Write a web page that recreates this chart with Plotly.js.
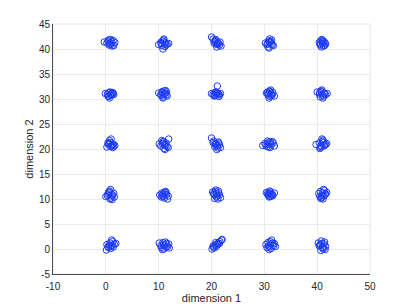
<!DOCTYPE html>
<html>
<head>
<meta charset="utf-8">
<script src="https://cdn.plot.ly/plotly-3.0.1.min.js"></script>
<style>html,body{margin:0;padding:0;background:#fff;}#chart{width:409px;height:308px;}</style>
</head>
<body>
<div id="chart"></div>
<script>
// Points grouped by row of clusters (dimension 2 ≈ 0, 10, 20, 30, 40)
var xRow0 = [0.2,0.5,0.8,1.0,1.3,1.6,0.9,0.4,1.1,1.4,0.7,1.9,0.1,1.2,
  10.1,10.5,10.9,11.3,11.7,12.0,10.7,11.1,11.5,10.4,11.9,11.0,10.8,11.4,
  20.1,20.4,20.7,21.0,21.3,21.6,21.9,20.5,20.9,21.2,20.3,21.5,22.0,20.8,
  30.3,30.7,31.0,31.4,31.8,32.1,30.9,31.2,31.6,30.5,31.3,30.8,31.9,31.1,
  40.2,40.5,40.8,41.0,41.3,41.6,40.7,41.1,41.4,40.4,40.9,41.2,40.6,41.5];
var yRow0 = [0.9,0.3,1.2,0.6,1.5,1.0,0.1,0.5,1.8,0.4,0.8,1.1,-0.2,0.7,
  1.2,0.3,0.9,1.4,0.5,0.2,-0.1,0.6,1.1,0.7,1.0,0.0,1.3,0.4,
  0.0,0.4,0.8,1.0,1.2,1.5,1.8,0.2,0.5,0.9,0.6,1.1,1.9,1.3,
  0.9,1.3,0.4,1.8,0.7,0.5,-0.1,1.0,1.2,0.3,0.1,0.6,1.1,1.5,
  1.2,0.8,1.6,0.3,1.0,0.5,-0.3,0.0,1.4,0.6,1.1,0.2,0.9,-0.1];
var xRow1 = [0.0,0.4,0.7,1.0,1.3,1.6,0.5,0.9,1.2,0.3,1.5,0.8,1.1,0.6,
  10.2,10.6,10.9,11.2,11.5,11.8,10.8,11.1,11.4,10.5,11.0,11.7,10.7,11.3,
  20.2,20.5,20.8,21.1,21.4,21.7,20.6,21.0,21.3,20.9,21.5,20.4,21.2,20.7,
  30.4,30.7,31.0,31.3,31.6,31.9,30.9,31.2,31.5,30.6,31.1,30.8,31.4,31.0,
  40.3,40.6,40.9,41.2,41.5,41.8,40.8,41.1,41.4,40.5,41.0,41.3,40.7,41.6];
var yRow1 = [10.5,11.0,11.6,10.2,10.8,10.4,11.3,11.9,9.9,10.7,11.1,10.0,10.6,11.4,
  10.8,11.2,10.5,11.4,10.9,10.6,11.0,10.2,11.3,10.4,11.1,10.0,10.7,11.5,
  11.4,10.9,11.8,10.6,11.2,10.3,10.1,11.0,11.6,10.4,10.8,11.1,10.0,11.5,
  11.3,10.8,11.6,11.0,10.7,11.2,10.4,11.4,10.9,11.1,10.5,11.0,10.6,11.2,
  11.1,11.5,10.7,11.9,10.9,11.3,10.3,10.0,11.7,10.5,11.2,10.6,10.1,11.0];
var xRow2 = [0.2,0.5,0.8,1.1,1.4,1.7,0.7,1.0,1.3,0.6,0.9,1.2,0.4,1.5,
  10.1,10.4,10.8,11.1,11.4,11.8,10.6,11.0,11.3,10.9,11.6,10.7,11.2,11.9,
  20.0,20.4,20.8,21.1,21.4,21.7,20.7,21.0,21.3,20.6,21.5,20.9,21.2,20.3,
  29.7,30.1,30.5,30.9,31.3,31.7,31.9,30.7,31.1,30.3,31.5,30.8,31.2,30.6,
  39.8,40.4,40.8,41.1,41.4,41.8,40.6,41.0,41.3,40.9,41.6,40.5,41.2,40.7];
var yRow2 = [20.4,20.9,21.3,20.6,21.0,20.7,21.7,22.0,20.3,21.1,20.5,20.8,21.2,20.6,
  21.0,20.6,21.4,20.9,21.2,20.3,21.7,20.1,20.7,21.5,20.5,21.1,19.9,22.0,
  22.2,21.6,21.0,20.6,21.2,20.3,20.9,19.9,21.4,20.5,20.8,21.1,20.2,21.3,
  20.7,21.1,20.5,21.4,20.9,21.2,20.6,21.0,20.3,20.8,21.5,20.4,21.3,21.6,
  20.9,21.2,20.5,21.8,20.8,21.1,20.3,21.5,20.6,22.0,20.9,20.1,21.3,20.7];
var xRow3 = [-0.1,0.3,0.6,0.9,1.2,1.5,0.5,0.8,1.1,1.4,0.7,1.0,0.4,1.3,
  10.0,10.4,10.7,11.0,11.3,11.6,10.6,10.9,11.2,11.4,10.8,11.1,10.5,11.5,
  20.0,20.3,20.6,20.9,21.2,21.5,21.7,20.5,20.8,21.1,21.4,20.7,21.0,21.3,
  30.4,30.7,31.0,31.3,31.6,31.9,30.9,31.2,31.5,30.6,31.1,30.8,31.4,31.0,
  40.0,40.4,40.7,41.0,41.3,41.6,41.9,40.6,40.9,41.2,40.8,41.1,40.5,41.4];
var yRow3 = [31.1,31.0,31.3,30.7,31.2,30.9,30.5,31.4,30.8,31.1,30.2,31.0,30.6,31.3,
  31.2,30.9,31.5,31.0,31.7,30.6,31.3,30.4,31.1,30.8,30.2,31.6,30.7,31.4,
  31.1,30.9,31.3,31.0,31.2,30.8,31.1,30.6,31.4,32.6,30.5,30.7,31.2,30.9,
  31.2,30.8,31.6,31.0,31.3,30.6,30.2,31.8,30.9,31.4,30.5,31.1,30.7,31.5,
  31.4,31.0,31.6,30.8,31.2,30.9,31.1,30.4,31.8,30.6,31.5,30.2,31.3,31.0];
var xRow4 = [-0.3,0.2,0.5,0.8,1.1,1.4,1.7,0.6,0.9,1.2,0.7,1.0,1.5,0.4,
  10.0,10.4,10.7,11.0,11.3,11.6,11.9,10.6,10.9,11.2,10.8,11.1,10.5,11.4,
  20.0,20.3,20.6,20.9,21.2,21.5,21.8,20.7,21.0,21.3,20.8,21.1,20.5,21.6,
  30.2,30.5,30.8,31.1,31.4,31.7,30.7,31.0,31.3,30.9,31.2,30.6,31.5,31.0,
  40.4,40.7,41.0,41.3,41.6,40.6,40.9,41.2,41.5,40.8,41.1,40.5,41.4,41.0];
var yRow4 = [41.4,41.2,41.8,41.0,41.5,41.7,41.3,40.8,41.9,40.6,41.2,40.9,40.7,41.6,
  40.9,41.3,41.6,42.0,41.2,41.0,41.1,40.7,41.8,40.5,40.0,41.4,41.1,40.8,
  42.4,42.0,41.5,41.0,41.3,40.8,40.6,41.7,40.4,41.1,41.9,40.9,41.2,41.4,
  41.2,40.9,41.6,41.3,41.8,40.7,40.4,42.0,41.0,40.2,41.5,41.1,40.8,41.4,
  41.3,41.7,41.1,41.5,41.0,40.8,41.9,40.6,41.2,40.4,41.4,41.0,40.7,41.6];

var xTicks = [-10,0,10,20,30,40,50];
var yTicks = [-5,0,5,10,15,20,25,30,35,40,45];

var xs = [].concat(xRow0, xRow1, xRow2, xRow3, xRow4);
var ys = [].concat(yRow0, yRow1, yRow2, yRow3, yRow4);

var trace = {
  x: xs, y: ys, type: 'scatter', mode: 'markers',
  marker: {symbol: 'circle-open', size: 6.5, color: '#1f3cf5', line: {width: 1, color: '#1f3cf5'}},
  hoverinfo: 'none'
};

var axisCommon = {
  showgrid: true, gridcolor: '#ebebeb', gridwidth: 1,
  zeroline: false, showline: true, linecolor: '#4d4d4d', linewidth: 1,
  ticks: '', tickfont: {family: 'Liberation Sans, Arial, sans-serif', size: 10, color: '#262626'},
  tickmode: 'array'
};

var layout = {
  width: 409, height: 308,
  margin: {l: 53, r: 39, t: 24, b: 34},
  paper_bgcolor: '#ffffff', plot_bgcolor: '#ffffff',
  showlegend: false,
  xaxis: Object.assign({}, axisCommon, {
    range: [-10, 50], tickvals: xTicks, ticktext: xTicks.map(String),
    ticklabelstandoff: 3,
    title: {text: 'dimension 1', standoff: 1, font: {family: 'Liberation Sans, Arial, sans-serif', size: 11, color: '#262626'}}
  }),
  yaxis: Object.assign({}, axisCommon, {
    range: [-5, 45], tickvals: yTicks, ticktext: yTicks.map(String),
    title: {text: 'dimension 2', standoff: 3, font: {family: 'Liberation Sans, Arial, sans-serif', size: 11, color: '#262626'}}
  }),
  shapes: [{type: 'rect', xref: 'paper', yref: 'paper', x0: 0, x1: 1, y0: 0, y1: 1,
    line: {color: '#e6e6e6', width: 1}, layer: 'below'}]
};

Plotly.newPlot('chart', [trace], layout, {staticPlot: true, displayModeBar: false});
</script>
</body>
</html>
